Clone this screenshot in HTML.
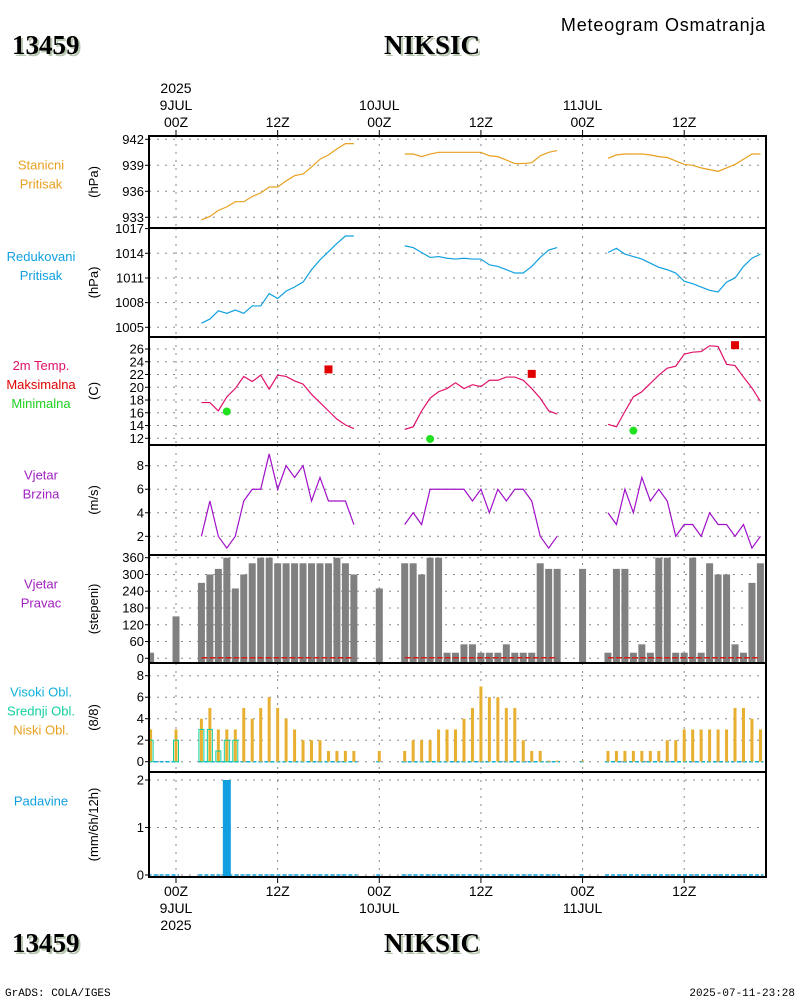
<!DOCTYPE html>
<html><head><meta charset="utf-8"><style>
html,body{margin:0;padding:0;background:#fff;}
svg{display:block;font-family:"Liberation Sans",sans-serif;}
</style></head><body>
<svg id="c" width="800" height="1000" viewBox="0 0 800 1000">
<g id="hdr">
<text x="766" y="31" font-size="18" letter-spacing="0.8" text-anchor="end">Meteogram Osmatranja</text>
<text x="14" y="56" font-size="27" font-weight="bold" font-family="Liberation Serif,serif" fill="#b8c8b0">13459</text>
<text x="12" y="54" font-size="27" font-weight="bold" font-family="Liberation Serif,serif">13459</text>
<text x="434" y="56" font-size="27" font-weight="bold" font-family="Liberation Serif,serif" fill="#b8c8b0" text-anchor="middle">NIKSIC</text>
<text x="432" y="54" font-size="27" font-weight="bold" font-family="Liberation Serif,serif" text-anchor="middle">NIKSIC</text>
<text x="14" y="954" font-size="27" font-weight="bold" font-family="Liberation Serif,serif" fill="#b8c8b0">13459</text>
<text x="12" y="952" font-size="27" font-weight="bold" font-family="Liberation Serif,serif">13459</text>
<text x="434" y="954" font-size="27" font-weight="bold" font-family="Liberation Serif,serif" fill="#b8c8b0" text-anchor="middle">NIKSIC</text>
<text x="432" y="952" font-size="27" font-weight="bold" font-family="Liberation Serif,serif" text-anchor="middle">NIKSIC</text>
<text x="5" y="996" font-size="11" font-family="Liberation Mono,monospace">GrADS: COLA/IGES</text>
<text x="795" y="996" font-size="11" font-family="Liberation Mono,monospace" text-anchor="end">2025-07-11-23:28</text>
</g>
</svg>
<script>
const hours=[3,4,5,6,7,8,9,10,11,12,13,14,15,16,17,18,19,20,21,27,28,29,30,31,32,33,34,35,36,37,38,39,40,41,42,43,44,45,51,52,53,54,55,56,57,58,59,60,61,62,63,64,65,66,67,68,69];
const presSt=[932.7,933.1,933.8,934.2,934.8,934.8,935.4,935.8,936.5,936.5,937.2,937.8,938.0,938.8,939.7,940.2,940.9,941.5,941.5,
940.3,940.3,940.0,940.3,940.5,940.5,940.5,940.5,940.5,940.5,940.1,940.0,939.6,939.2,939.2,939.3,940.1,940.5,940.7,
939.8,940.2,940.3,940.3,940.3,940.2,940.0,939.9,939.5,939.1,939.0,938.7,938.5,938.3,938.7,939.1,939.7,940.3,940.3];
const presRed=[1005.5,1006.0,1007.0,1006.7,1007.1,1006.7,1007.6,1007.6,1009.1,1008.5,1009.4,1009.9,1010.5,1012.0,1013.2,1014.2,1015.2,1016.1,1016.1,
1014.9,1014.7,1014.1,1013.5,1013.6,1013.4,1013.3,1013.4,1013.3,1013.3,1012.6,1012.4,1012.0,1011.6,1011.6,1012.4,1013.5,1014.4,1014.7,
1014.1,1014.6,1013.9,1013.6,1013.3,1012.8,1012.3,1012.0,1011.6,1010.6,1010.3,1009.9,1009.5,1009.3,1010.5,1011.0,1012.4,1013.4,1013.9];
const temp=[17.6,17.6,16.3,18.5,19.8,21.7,20.9,21.9,19.7,21.9,21.7,21.0,20.5,18.9,17.6,16.3,15.0,14.1,13.5,
13.4,13.8,16.3,18.3,19.3,19.8,20.7,19.8,20.4,20.1,21.1,21.1,21.6,21.6,21.1,19.8,18.3,16.3,15.8,
14.2,13.8,16.2,18.5,19.3,20.6,21.9,23.0,23.3,25.2,25.5,25.6,26.5,26.4,23.6,23.4,21.6,19.9,17.8];
const wind=[2,5,2,1,2,5,6,6,9,6,8,7,8,5,7,5,5,5,3,
3,4,3,6,6,6,6,6,5,6,4,6,5,6,6,5,2,1,2,
4,3,6,4,7,5,6,5,2,3,3,2,4,3,3,2,3,1,2];
const tmaxH=[18,42,66], tmaxV=[22.8,22.1,26.6];
const tminH=[6,30,54], tminV=[16.2,11.9,13.2];
const dirH=[-3,0,3,4,5,6,7,8,9,10,11,12,13,14,15,16,17,18,19,20,21,24,27,28,29,30,31,32,33,34,35,36,37,38,39,40,41,42,43,44,45,48,51,52,53,54,55,56,57,58,59,60,61,62,63,64,65,66,67,68,69];
const dirV=[20,150,270,300,320,360,250,300,340,360,360,340,340,340,340,340,340,340,360,340,300,250,340,340,300,360,360,20,20,50,50,20,20,20,50,20,20,20,340,320,320,320,20,320,320,20,50,20,360,360,20,20,360,20,340,300,300,50,20,270,340];
const cloudH=[-3,0,3,4,5,6,7,8,9,10,11,12,13,14,15,16,17,18,19,20,21,24,27,28,29,30,31,32,33,34,35,36,37,38,39,40,41,42,43,44,45,48,51,52,53,54,55,56,57,58,59,60,61,62,63,64,65,66,67,68,69];
const cloudLow=[3,3,4,5,3,3,3,5,4,5,6,5,4,3,2,2,2,1,1,1,1,1,1,2,2,2,3,3,3,4,5,7,6,6,5,5,2,1,1,0.1,0.1,0.1,1,1,1,1,1,1,1,2,2,3,3,3,3,3,3,5,5,4,3];
const cloudMidH=[-3,0,3,4,5,6,7], cloudMid=[2,2,3,3,1,2,2];
const precH=[6], precV=[2];
const precBase=[[-3,0],[3,21],[24,24],[27,45],[48,48],[51,69]];
const xTicks=[0,12,24,36,48,60];
const xTop=[["2025","9JUL","00Z"],["","","12Z"],["","10JUL","00Z"],["","","12Z"],["","11JUL","00Z"],["","","12Z"]];
const xBot=[["00Z","9JUL","2025"],["12Z","",""],["00Z","10JUL",""],["12Z","",""],["00Z","11JUL",""],["12Z","",""]];
const ticksP1=[933,936,939,942], ticksP2=[1005,1008,1011,1014,1017], ticksT=[12,14,16,18,20,22,24,26], ticksW=[2,4,6,8], ticksD=[0,60,120,180,240,300,360], ticksC=[0,2,4,6,8], ticksR=[0,1,2];

const NS="http://www.w3.org/2000/svg";
const svg=document.getElementById('c');
const X0=149,X1=766;
const xs=h=>176+h*8.47;
function el(t,a,p){const e=document.createElementNS(NS,t);for(const k in a)e.setAttribute(k,a[k]);(p||svg).appendChild(e);return e;}
function lin(v0,y0,v1,y1){return v=>y0+(v-v0)*(y1-y0)/(v1-v0);}
const panels=[
 {top:136,bot:228,y:lin(933,217.3,942,139.3),ticks:ticksP1,unit:"(hPa)",off:-8,lab:[["Stanicni","#e8a020"],["Pritisak","#e8a020"]],name:"station-pressure"},
 {top:228,bot:337,y:lin(1005,327.3,1014,253.3),ticks:ticksP2,unit:"(hPa)",off:-17,lab:[["Redukovani","#10a0e0"],["Pritisak","#10a0e0"]],name:"reduced-pressure"},
 {top:337,bot:445,y:lin(12,438.3,26,349),ticks:ticksT,unit:"(C)",off:-7,lab:[["2m Temp.","#e0106a"],["Maksimalna","#e00000"],["Minimalna","#20d020"]],name:"temperature"},
 {top:445,bot:555,y:lin(2,536.3,8,465.7),ticks:ticksW,unit:"(m/s)",off:-16,lab:[["Vjetar","#a020c0"],["Brzina","#a020c0"]],name:"wind-speed"},
 {top:555,bot:663,y:lin(0,658.3,360,557.7),ticks:ticksD,unit:"(stepeni)",off:-16,lab:[["Vjetar","#a020c0"],["Pravac","#a020c0"]],name:"wind-direction"},
 {top:663,bot:772,y:lin(0,761.7,8,675.7),ticks:ticksC,unit:"(8/8)",off:-7,lab:[["Visoki Obl.","#10b0d8"],["Srednji Obl.","#10d0a0"],["Niski Obl.","#e8a020"]],name:"clouds"},
 {top:772,bot:877,y:lin(0,875,2,780),ticks:ticksR,unit:"(mm/6h/12h)",off:-24,lab:[["Padavine","#10a0e0"]],name:"precipitation"}
];
const defs=el('defs',{});
const cp=el('clipPath',{id:'pc'},defs);el('rect',{x:X0,y:136,width:X1-X0,height:741},cp);
panels.forEach((p,i)=>{
 const g=el('g',{});
 
 
 xTicks.forEach(h=>{const l=el('line',{x1:xs(h),x2:xs(h),y1:p.top,y2:p.bot,stroke:'#888','stroke-dasharray':'2,6','stroke-width':1},g);
  });
 p.ticks.forEach(v=>{const y=p.y(v);
  const l=el('line',{x1:X0,x2:X1,y1:y,y2:y,stroke:'#888','stroke-dasharray':'2,6','stroke-width':1},g);
  
  el('line',{x1:X0-4,x2:X0,y1:y,y2:y,stroke:'#000'},g);
  const t=el('text',{x:X0-5,y:y+4.5,'font-size':13,'text-anchor':'end'},g);t.textContent=v;
  });
 const u=el('text',{transform:`translate(${i==6?98:98},${(p.top+p.bot)/2}) rotate(-90)`,'font-size':13,'text-anchor':'middle'},g);u.textContent=p.unit;
 
 const n=p.lab.length,cy=(p.top+p.bot)/2+p.off-(n-1)*9.5;
 p.lab.forEach((l,j)=>{const t=el('text',{x:41,y:cy+j*19+5,'font-size':13,'text-anchor':'middle',fill:l[1]},g);t.textContent=l[0];
  });
 p.g=el('g',{'clip-path':'url(#pc)'},g);
});
function seriesLine(p,vals,color,name){
 let segs=[],cur=[];
 hours.forEach((h,i)=>{if(i>0&&h-hours[i-1]>1){segs.push(cur);cur=[];}cur.push(xs(h)+','+p.y(vals[i]));});
 segs.push(cur);
 segs.forEach(s=>{const l=el('polyline',{points:s.join(' '),fill:'none',stroke:color,'stroke-width':1.2},p.g);
  });
}
seriesLine(panels[0],presSt,'#e8a020','station-pressure-line');
seriesLine(panels[1],presRed,'#10a0e0','reduced-pressure-line');
seriesLine(panels[2],temp,'#e0106a','temperature-line');
seriesLine(panels[3],wind,'#a010c8','wind-speed-line');
tmaxH.forEach((h,i)=>{const r=el('rect',{x:xs(h)-4,y:panels[2].y(tmaxV[i])-4,width:8,height:8,fill:'#e00000'},panels[2].g);
 });
tminH.forEach((h,i)=>{const c=el('circle',{cx:xs(h),cy:panels[2].y(tminV[i]),r:4,fill:'#20e020'},panels[2].g);
 });
const pd=panels[4];
dirH.forEach((h,i)=>{const y=pd.y(dirV[i]);const r=el('rect',{x:xs(h)-3.5,y:y,width:7,height:pd.bot-y,fill:'#808080'},pd.g);
 });
[[3,21],[27,45],[51,69]].forEach(s=>{el('line',{x1:xs(s[0]),x2:xs(s[1]),y1:pd.y(2),y2:pd.y(2),stroke:'#d02020','stroke-width':1.5,'stroke-dasharray':'6,2'},pd.g);});
const pc=panels[5];
precBase.forEach(s=>{el('line',{x1:xs(s[0])-3,x2:xs(s[1])+3,y1:pc.y(0),y2:pc.y(0),stroke:'#10b0d8','stroke-width':1.5,'stroke-dasharray':'4,2'},pc.g);});
cloudH.forEach((h,i)=>{const y=pc.y(cloudLow[i]);const r=el('rect',{x:xs(h)-1.5,y:y,width:3,height:pc.y(0)-y,fill:'#e8b030'},pc.g);
 });
cloudMidH.forEach((h,i)=>{const y=pc.y(cloudMid[i]);const r=el('rect',{x:xs(h)-2.5,y:y,width:5,height:pc.y(0)-y,fill:'none',stroke:'#10d0a0','stroke-width':1},pc.g);
 });
const pr=panels[6];
precBase.forEach(s=>{el('line',{x1:xs(s[0])-3,x2:xs(s[1])+3,y1:pr.y(0),y2:pr.y(0),stroke:'#10a0e0','stroke-width':1.5,'stroke-dasharray':'4,2'},pr.g);});
precH.forEach((h,i)=>{const y=pr.y(precV[i]);const r=el('rect',{x:xs(h)-4,y:y,width:8,height:pr.y(0)-y+1,fill:'#10a0e0'},pr.g);
 });
panels.forEach(p=>{el('rect',{x:X0,y:p.top,width:X1-X0,height:p.bot-p.top,fill:'none',stroke:'#000','stroke-width':2});});
xTicks.forEach((h,i)=>{const x=xs(h);
 el('line',{x1:x,x2:x,y1:136,y2:130,stroke:'#000'});el('line',{x1:x,x2:x,y1:877,y2:883,stroke:'#000'});
 xTop[i].forEach((s,j)=>{if(!s)return;const t=el('text',{x:x,y:93+j*17,'font-size':14,'text-anchor':'middle'});t.textContent=s;
  });
 xBot[i].forEach((s,j)=>{if(!s)return;const t=el('text',{x:x,y:896+j*17,'font-size':14,'text-anchor':'middle'});t.textContent=s;
  });
});
</script>
</body></html>
